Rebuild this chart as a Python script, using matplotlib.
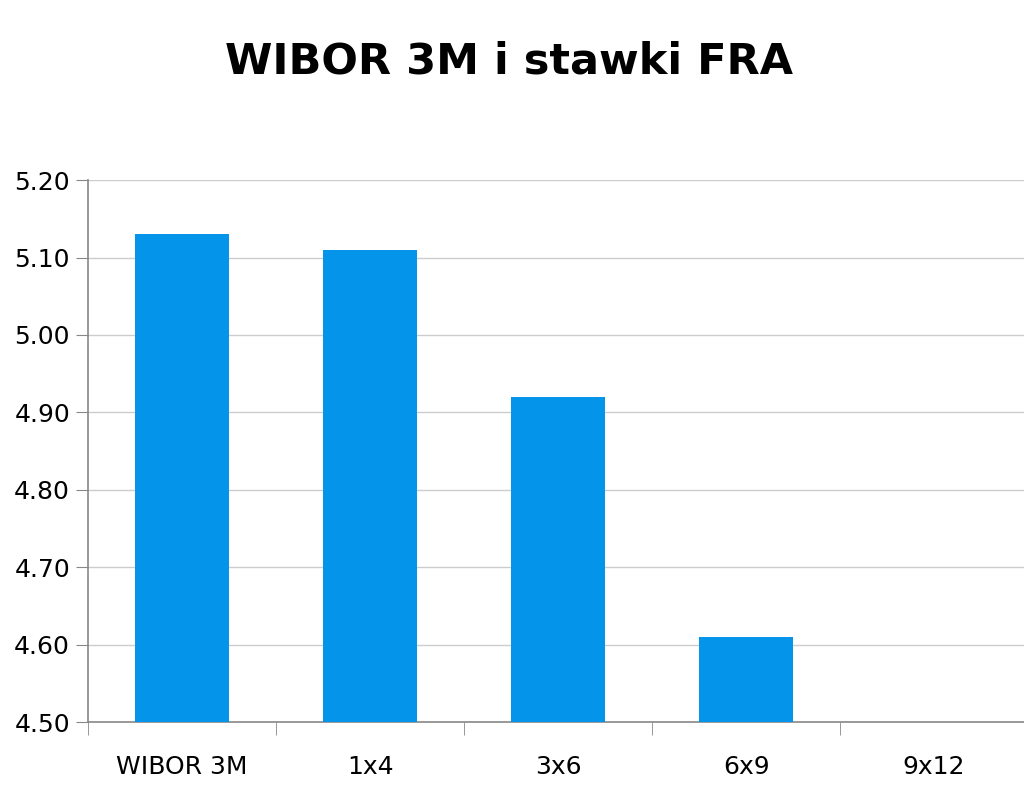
import numpy as np
from matplotlib import pyplot as plt

# stawki (%), 9x12 bez slupka na wykresie
categories = ["WIBOR 3M", "1x4", "3x6", "6x9", "9x12"]
rates = [5.13, 5.11, 4.92, 4.61, np.nan]
y_ticks = [4.50, 4.60, 4.70, 4.80, 4.90, 5.00, 5.10, 5.20]

fig = plt.figure(figsize=(10.24, 7.91), dpi=100)
ax = fig.add_axes([0.086, 0.0872, 0.918, 0.685])

x = np.arange(len(categories))
ax.bar(x, np.array(rates) - 4.50, bottom=4.50, width=0.5, color="#0494EA", zorder=3)

ax.set_ylim(4.50, 5.20)
ax.set_xlim(-0.5, len(categories) - 0.5)
ax.set_yticks(y_ticks)
ax.set_yticklabels([f"{v:.2f}" for v in y_ticks], fontsize=18)
ax.yaxis.grid(True, color="#cccccc", linewidth=1.0, zorder=0)

# etykiety kategorii na srodku, kreski na granicach
ax.set_xticks(x)
ax.set_xticklabels(categories, fontsize=18)
ax.tick_params(axis="x", length=0, pad=24)
ax.set_xticks(np.arange(-0.5, len(categories) + 0.5), minor=True)
ax.tick_params(axis="x", which="minor", length=9, color="#888888")
ax.tick_params(axis="y", length=9, color="#888888", pad=4)

for s in ["top", "right"]:
    ax.spines[s].set_visible(False)
ax.spines["left"].set_color("#888888")
ax.spines["bottom"].set_color("#888888")
ax.spines["left"].set_linewidth(1.2)
ax.spines["bottom"].set_linewidth(1.2)

fig.text(0.497, 0.922, "WIBOR 3M i stawki FRA", ha="center", va="center",
         fontsize=31, fontweight="heavy")

fig.savefig("out.png", dpi=100)
